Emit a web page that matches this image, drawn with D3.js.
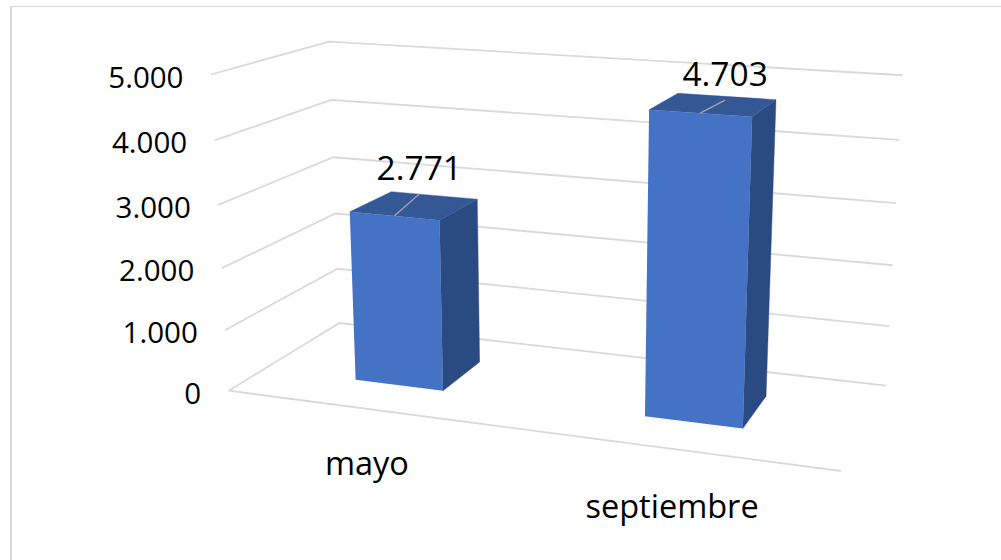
<!DOCTYPE html>
<html><head><meta charset="utf-8">
<script src="https://cdn.jsdelivr.net/npm/d3@7/dist/d3.min.js"></script>
<style>html,body{margin:0;padding:0;background:#fff;overflow:hidden}svg{display:block}text{font-family:"Open Sans",sans-serif;fill:#000}</style>
</head><body><svg id="c" width="1001" height="560"></svg>
<script>
const categories = ["mayo", "septiembre"];
const values = [2771, 4703];
const tickValues = [0, 1000, 2000, 3000, 4000, 5000];
const leaderRise = [22, 13];
const categoryDrop = [66, 69.5];

const W = 1001, H = 560;
// perspective frame: image of the chart box corners
const wx = 0.8889, wy = 0.95, wz = 1.1295;
const O = [228.7, 390.7], PX = [841, 471], PY = [211, 74.5], PZ = [339.5, 323];
const hom = (p, w) => [w * p[0] - O[0], w * p[1] - O[1], w - 1];
const A = hom(PX, wx), B = hom(PY, wy), C = hom(PZ, wz);
function project(x, y, z) {
  const h = [0, 1, 2].map(i => A[i] * x + B[i] * y + C[i] * z + (i < 2 ? O[i] : 1));
  return [h[0] / h[2], h[1] / h[2]];
}
const loc = d3.formatLocale({decimal: ",", thousands: ".", grouping: [3], currency: ["", ""]});
const fmt = loc.format(",d");

const yS = d3.scaleLinear().domain([0, 5000]).range([0, 1]);
const xS = d3.scaleBand().domain(categories).range([-0.003, 0.997]).paddingInner(0.686).paddingOuter(0.343);
const zFront = 0.302, zBack = 0.698;
const line = d3.line();
const svg = d3.select("#c");

// frame
svg.append("rect").attr("x", 10).attr("y", 6).attr("width", W - 10).attr("height", 1).attr("fill", "#d9d9d9");
svg.append("rect").attr("x", 10).attr("y", 6).attr("width", 2).attr("height", H - 6).attr("fill", "#d9d9d9");

// gridlines
const grid = svg.append("g").attr("fill", "none").attr("stroke", "#d9d9d9").attr("stroke-width", 1.8);
tickValues.forEach(t => {
  const y = yS(t);
  grid.append("path").attr("d", line([project(0, y, 0), project(0, y, 1), project(1, y, 1)]));
});
grid.append("path").attr("d", line([project(0, 0, 0), project(1, 0, 0)]));

// tick labels
svg.append("g").selectAll("text").data(tickValues).join("text")
  .attr("x", d => project(0, yS(d), 0)[0] - 27.5)
  .attr("y", d => project(0, yS(d), 0)[1] + 13)
  .attr("text-anchor", "end").attr("font-size", 29.5).text(d => fmt(d));

// bars
const bars = svg.append("g").selectAll("g").data(categories).join("g");
bars.each(function (c, i) {
  const g = d3.select(this);
  const x0 = xS(c), x1 = x0 + xS.bandwidth(), v = yS(values[i]);
  const poly = pts => line(pts) + "Z";
  g.append("path").attr("fill", "#2a4a82").attr("stroke", "#2a4a82").attr("stroke-width", 0.4).attr("d", poly([project(x1, 0, zFront), project(x1, 0, zBack), project(x1, v, zBack), project(x1, v, zFront)]));
  g.append("path").attr("fill", "#345896").attr("stroke", "#345896").attr("stroke-width", 0.4).attr("d", poly([project(x0, v, zFront), project(x1, v, zFront), project(x1, v, zBack), project(x0, v, zBack)]));
  g.append("path").attr("fill", "#4472c4").attr("d", poly([project(x0, 0, zFront), project(x1, 0, zFront), project(x1, v, zFront), project(x0, v, zFront)]));
  const s = project((x0 + x1) / 2, v, zFront);
  const e = [s[0] + 25, s[1] - leaderRise[i]];
  g.append("path").attr("fill", "none").attr("stroke", "#a6a6a6").attr("stroke-width", 1.3).attr("d", line([s, e]));
  g.append("text").attr("x", e[0]).attr("y", e[1] - 14).attr("text-anchor", "middle").attr("font-size", 33.5).text(fmt(values[i]));
  const b = project((x0 + x1) / 2, 0, 0);
  g.append("text").attr("x", b[0]).attr("y", b[1] + categoryDrop[i]).attr("text-anchor", "middle").attr("font-size", 32.5).text(c);
});
</script></body></html>
